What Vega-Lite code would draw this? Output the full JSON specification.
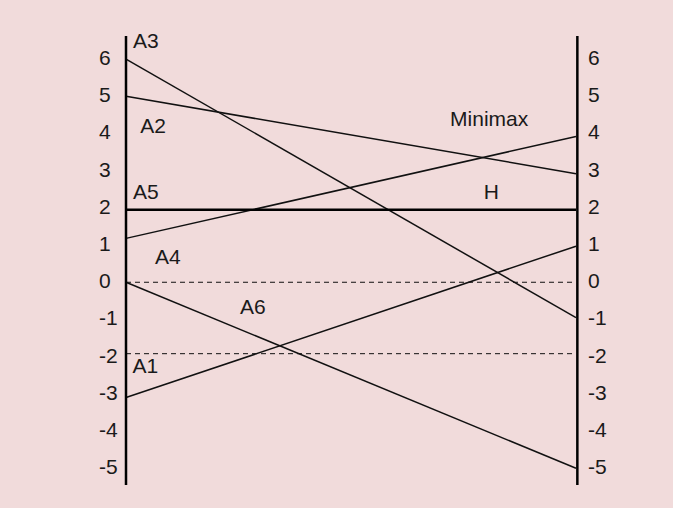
{
  "$schema": "https://vega.github.io/schema/vega-lite/v6.json",
  "autosize": {"type": "none"},
  "width": 450,
  "height": 449,
  "padding": {"left": 126, "top": 36, "right": 97, "bottom": 23},
  "background": "#f1dbdb",
  "config": {"view": {"stroke": null}, "text": {"font": "Liberation Sans", "fontSize": 21, "color": "#1a1a1a"}},
  "datasets": {
    "lines": [
      {"name": "A3", "x0": 0, "y0": 6, "x1": 1, "y1": -0.95, "kind": "thin"},
      {"name": "A2", "x0": 0, "y0": 5, "x1": 1, "y1": 2.92, "kind": "thin"},
      {"name": "A4", "x0": 0, "y0": 1.18, "x1": 1, "y1": 3.92, "kind": "thin"},
      {"name": "A6", "x0": 0, "y0": 0, "x1": 1, "y1": -5, "kind": "thin"},
      {"name": "A1", "x0": 0, "y0": -3.1, "x1": 1, "y1": 0.97, "kind": "thin"}
    ],
    "thick": [
      {"name": "A5", "x0": 0, "y0": 1.95, "x1": 1, "y1": 1.95}
    ],
    "dashed": [
      {"name": "zero", "x0": 0, "y0": 0, "x1": 1, "y1": 0},
      {"name": "minus2", "x0": 0, "y0": -1.92, "x1": 1, "y1": -1.92}
    ],
    "axes": [
      {"side": "left", "x0": 0, "y0": -5.45, "x1": 0, "y1": 6.62},
      {"side": "right", "x0": 1.003, "y0": -5.45, "x1": 1.003, "y1": 6.62}
    ],
    "ticks": [
      {"v": 6}, {"v": 5}, {"v": 4}, {"v": 3}, {"v": 2}, {"v": 1}, {"v": 0},
      {"v": -1}, {"v": -2}, {"v": -3}, {"v": -4}, {"v": -5}
    ],
    "labels": [
      {"t": "A3", "x": 0.044, "y": 6.46},
      {"t": "A2", "x": 0.06, "y": 4.17},
      {"t": "A5", "x": 0.044, "y": 2.39},
      {"t": "A4", "x": 0.093, "y": 0.65},
      {"t": "A6", "x": 0.282, "y": -0.7},
      {"t": "A1", "x": 0.043, "y": -2.29},
      {"t": "Minimax", "x": 0.807, "y": 4.36},
      {"t": "H", "x": 0.812, "y": 2.39}
    ]
  },
  "layer": [
    {
      "data": {"name": "dashed"},
      "mark": {"type": "rule", "color": "#111", "strokeWidth": 1, "strokeDash": [5, 4]},
      "encoding": {
        "x": {"field": "x0", "type": "quantitative", "scale": {"domain": [0, 1]}, "axis": null},
        "y": {"field": "y0", "type": "quantitative", "scale": {"domain": [-5.45, 6.62], "nice": false, "zero": false}, "axis": null},
        "x2": {"field": "x1"},
        "y2": {"field": "y1"}
      }
    },
    {
      "data": {"name": "lines"},
      "mark": {"type": "rule", "color": "#111", "strokeWidth": 1.5},
      "encoding": {
        "x": {"field": "x0", "type": "quantitative"},
        "y": {"field": "y0", "type": "quantitative"},
        "x2": {"field": "x1"},
        "y2": {"field": "y1"}
      }
    },
    {
      "data": {"name": "thick"},
      "mark": {"type": "rule", "color": "#000", "strokeWidth": 2.5},
      "encoding": {
        "x": {"field": "x0", "type": "quantitative"},
        "y": {"field": "y0", "type": "quantitative"},
        "x2": {"field": "x1"},
        "y2": {"field": "y1"}
      }
    },
    {
      "data": {"name": "axes"},
      "mark": {"type": "rule", "color": "#000", "strokeWidth": 2.5},
      "encoding": {
        "x": {"field": "x0", "type": "quantitative"},
        "y": {"field": "y0", "type": "quantitative"},
        "x2": {"field": "x1"},
        "y2": {"field": "y1"}
      }
    },
    {
      "data": {"name": "ticks"},
      "mark": {"type": "text", "align": "left", "baseline": "middle", "dx": -27},
      "encoding": {
        "x": {"datum": 0, "type": "quantitative"},
        "y": {"field": "v", "type": "quantitative"},
        "text": {"field": "v", "type": "nominal"}
      }
    },
    {
      "data": {"name": "ticks"},
      "mark": {"type": "text", "align": "left", "baseline": "middle", "dx": 12},
      "encoding": {
        "x": {"datum": 1, "type": "quantitative"},
        "y": {"field": "v", "type": "quantitative"},
        "text": {"field": "v", "type": "nominal"}
      }
    },
    {
      "data": {"name": "labels"},
      "mark": {"type": "text", "align": "center", "baseline": "middle"},
      "encoding": {
        "x": {"field": "x", "type": "quantitative"},
        "y": {"field": "y", "type": "quantitative"},
        "text": {"field": "t", "type": "nominal"}
      }
    }
  ]
}
